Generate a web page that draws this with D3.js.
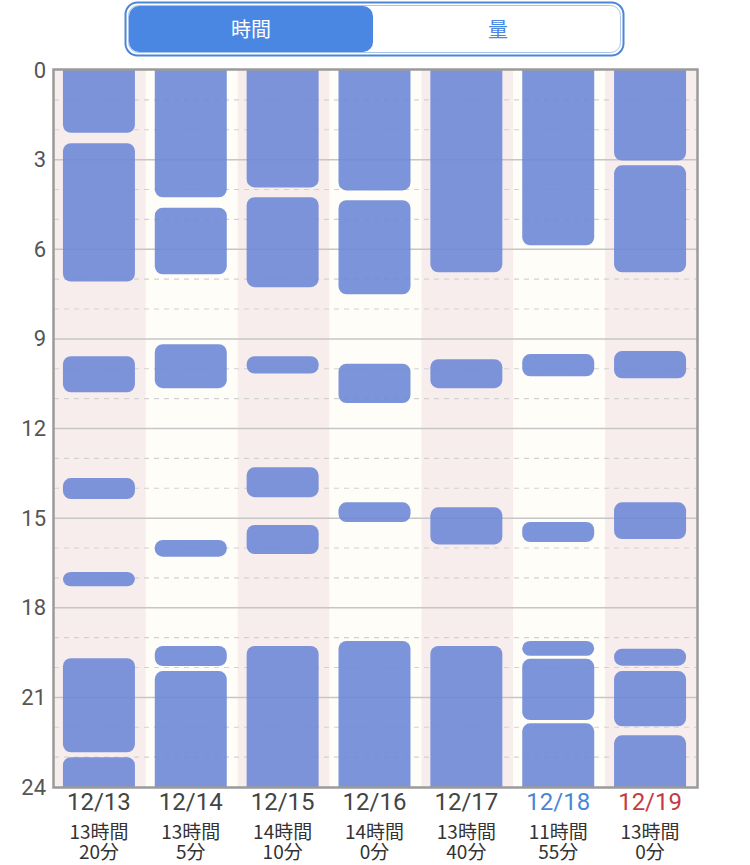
<!DOCTYPE html>
<html>
<head>
<meta charset="utf-8">
<script src="https://cdn.jsdelivr.net/npm/d3@7"></script>
<style>
  body { margin: 0; background: #fff; }
  svg { display: block; font-family: "Noto Sans CJK JP", "Noto Sans", sans-serif; }
</style>
</head>
<body>
<svg id="chart" width="750" height="865"></svg>
<script>
// dates on the x axis
const days = ["12/13", "12/14", "12/15", "12/16", "12/17", "12/18", "12/19"];
// colour of each date label
const dayKinds = ["normal", "normal", "normal", "normal", "normal", "sat", "sun"];
// total time per day
const totalHours = ["13時間", "13時間", "14時間", "14時間", "13時間", "11時間", "13時間"];
const totalMinutes = ["20分", "5分", "10分", "0分", "40分", "55分", "0分"];
// sleep segments per day, [start, end] in hours
const segments = [
  [[0, 2.1], [2.45, 7.08], [9.58, 10.79], [13.66, 14.36], [16.8, 17.28], [19.69, 22.84], [23.0, 24]],
  [[0, 4.26], [4.61, 6.84], [9.18, 10.65], [15.73, 16.29], [19.28, 19.95], [20.12, 24]],
  [[0, 3.93], [4.26, 7.27], [9.58, 10.16], [13.3, 14.3], [15.23, 16.2], [19.28, 24]],
  [[0, 4.03], [4.36, 7.51], [9.83, 11.15], [14.47, 15.13], [19.11, 24]],
  [[0, 6.77], [9.68, 10.65], [14.64, 15.88], [19.28, 24]],
  [[0, 5.87], [9.51, 10.25], [15.13, 15.8], [19.11, 19.61], [19.71, 21.76], [21.87, 24]],
  [[0, 3.03], [3.19, 6.77], [9.41, 10.32], [14.47, 15.7], [19.37, 19.94], [20.12, 21.97], [22.27, 24]]
];
// y axis ticks
const yTicks = [0, 3, 6, 9, 12, 15, 18, 21, 24];
const tabs = ["時間", "量"];

const plotLeft = 54, plotRight = 697, plotTop = 70, plotBottom = 787;
const svg = d3.select("#chart");

// segmented control
const tab = svg.append("g");
tab.append("rect")
  .attr("x", 125.5).attr("y", 2.5).attr("width", 498).attr("height", 53)
  .attr("rx", 12).attr("fill", "#fff").attr("stroke", "#4d86d4").attr("stroke-width", 2);
tab.append("rect")
  .attr("x", 128.5).attr("y", 5.5).attr("width", 492).attr("height", 47)
  .attr("rx", 10).attr("fill", "none").attr("stroke", "#a9c4ec").attr("stroke-width", 1);
tab.append("rect")
  .attr("x", 129).attr("y", 6).attr("width", 244).attr("height", 46)
  .attr("rx", 10).attr("fill", "#4a87e2");
tab.selectAll("text").data(tabs).enter().append("text")
  .attr("x", (d, i) => i === 0 ? 251 : 498)
  .attr("y", 30)
  .attr("dy", "0.36em")
  .attr("text-anchor", "middle")
  .attr("font-size", 20)
  .attr("fill", (d, i) => i === 0 ? "#fff" : "#4a87e2")
  .text(d => d);

const x = d3.scaleBand()
  .domain(days)
  .range([plotLeft, plotRight]);

const y = d3.scaleLinear()
  .domain([0, 24])
  .range([plotTop, plotBottom]);

// column backgrounds
svg.append("g").selectAll("rect")
  .data(days).enter().append("rect")
  .attr("x", d => x(d))
  .attr("y", plotTop)
  .attr("width", x.bandwidth())
  .attr("height", plotBottom - plotTop)
  .attr("fill", (d, i) => i % 2 === 0 ? "#f8eded" : "#fffdf7");

// grid
const grid = svg.append("g");
grid.selectAll("line.minor")
  .data(d3.range(1, 24).filter(h => h % 3 !== 0)).enter().append("line")
  .attr("x1", plotLeft).attr("x2", plotRight)
  .attr("y1", d => y(d)).attr("y2", d => y(d))
  .attr("stroke", "#d2d2d2").attr("stroke-width", 1.2)
  .attr("stroke-dasharray", "5,5");
grid.selectAll("line.major")
  .data(yTicks.slice(1, -1)).enter().append("line")
  .attr("x1", plotLeft).attr("x2", plotRight)
  .attr("y1", d => y(d)).attr("y2", d => y(d))
  .attr("stroke", "#c6c6c6").attr("stroke-width", 1.5);

// bars
svg.append("clipPath").attr("id", "plot")
  .append("rect").attr("x", plotLeft).attr("y", plotTop)
  .attr("width", plotRight - plotLeft).attr("height", plotBottom - plotTop);

const barW = 72;
const barTop = d => d[0] === 0 ? y(0) - 10 : y(d[0]);
const barEnd = d => d[1] === 24 ? y(24) + 10 : y(d[1]);
const bars = svg.append("g").attr("clip-path", "url(#plot)");
days.forEach((day, i) => {
  bars.selectAll(null)
    .data(segments[i]).enter().append("rect")
    .attr("x", x(day) + (x.bandwidth() - barW) / 2 - 1)
    .attr("y", barTop)
    .attr("width", barW)
    .attr("height", d => barEnd(d) - barTop(d))
    .attr("rx", 8)
    .attr("fill", "rgb(106,134,214)")
    .attr("fill-opacity", 0.88);
});

// frame
svg.append("rect")
  .attr("x", plotLeft - 0.5).attr("y", plotTop - 0.5)
  .attr("width", plotRight - plotLeft + 1).attr("height", plotBottom - plotTop + 1)
  .attr("fill", "none").attr("stroke", "#9a9a9a").attr("stroke-width", 2.5);

// y axis labels
const yAxis = svg.append("g")
  .attr("transform", `translate(${plotLeft},0)`)
  .call(d3.axisLeft(y).tickValues(yTicks).tickSize(0).tickPadding(8));
yAxis.select(".domain").remove();
yAxis.selectAll("text")
  .attr("font-size", 22)
  .attr("fill", "#555")
  .attr("font-family", "Roboto, sans-serif");

// x labels
const dayColor = { normal: "#444", sat: "#4a86d4", sun: "#c63a44" };
const xl = svg.append("g");
xl.selectAll("text.day").data(days).enter().append("text")
  .attr("x", d => x(d) + x.bandwidth() / 2 - 1)
  .attr("y", 810)
  .attr("text-anchor", "middle")
  .attr("font-size", 24)
  .attr("font-family", "Roboto, sans-serif")
  .attr("fill", (d, i) => dayColor[dayKinds[i]])
  .text(d => d);
const totals = xl.selectAll("text.total").data(days).enter().append("text")
  .attr("text-anchor", "middle")
  .attr("font-size", 19)
  .attr("fill", "#333");
totals.append("tspan")
  .attr("x", (d, i) => x(d) + x.bandwidth() / 2 - 1)
  .attr("y", 839)
  .text((d, i) => totalHours[i]);
totals.append("tspan")
  .attr("x", (d, i) => x(d) + x.bandwidth() / 2 - 1)
  .attr("y", 859)
  .text((d, i) => totalMinutes[i]);
</script>
</body>
</html>
